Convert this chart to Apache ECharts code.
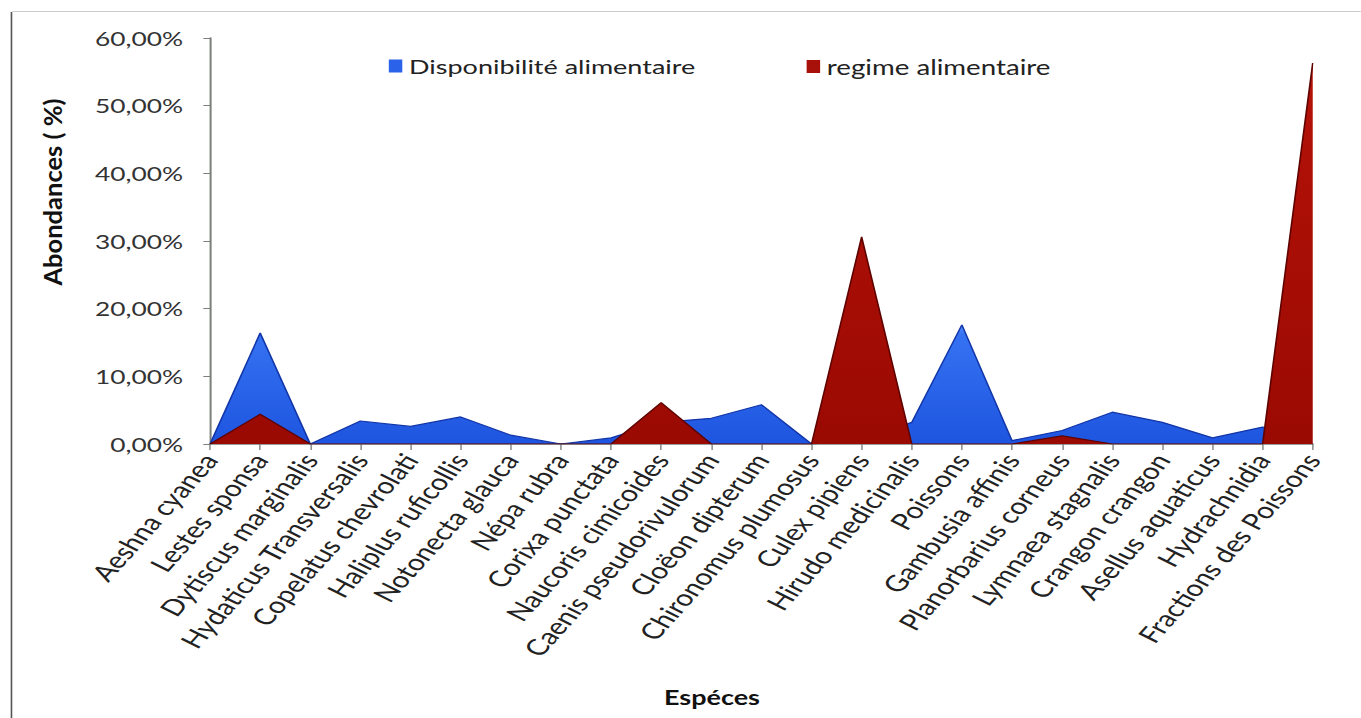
<!DOCTYPE html>
<html>
<head>
<meta charset="utf-8">
<script src="https://cdn.jsdelivr.net/npm/echarts@6/dist/echarts.min.js"></script>
<style>
  html, body { margin: 0; padding: 0; background: #fff; overflow: hidden; }
  /* The chart is laid out in a narrower box and widened horizontally,
     which gives the wide lettering of the published figure. */
  #wrap { width: 1361px; height: 718px; overflow: hidden; }
  #chart { width: 1008.15px; height: 718px; transform: scaleX(1.35); transform-origin: 0 0; }
</style>
</head>
<body>
<div id="wrap"><div id="chart"></div></div>
<script>
// Species (x categories)
const species = [
  'Aeshna cyanea', 'Lestes sponsa', 'Dytiscus marginalis', 'Hydaticus Transversalis',
  'Copelatus chevrolati', 'Haliplus ruficollis', 'Notonecta glauca', 'Népa rubra',
  'Corixa punctata', 'Naucoris cimicoides', 'Caenis pseudorivulorum', 'Cloëon dipterum',
  'Chironomus plumosus', 'Culex pipiens', 'Hirudo medicinalis', 'Poissons',
  'Gambusia affinis', 'Planorbarius corneus', 'Lymnaea stagnalis', 'Crangon crangon',
  'Asellus aquaticus', 'Hydrachnidia', 'Fractions des Poissons'
];

// Abundances in %
const disponibilite = [
  0, 16.4, 0, 3.4, 2.6, 4.0, 1.3, 0, 0.9, 3.2, 3.8, 5.8,
  0, 0.5, 3.2, 17.6, 0.5, 2.0, 4.7, 3.2, 0.9, 2.5, 0
];
const regime = [
  0, 4.4, 0, 0, 0, 0, 0, 0, 0, 6.1, 0, 0,
  0, 30.6, 0, 0, 0, 1.2, 0, 0, 0, 0, 56.3
];

const yTicks = { min: 0, max: 60, interval: 10 };

const FONT = 'Lato, "Open Sans", sans-serif';
const WIDEN = 1.35;

const chart = echarts.init(document.getElementById('chart'), null, { renderer: 'svg' });

const blueFill = new echarts.graphic.LinearGradient(0, 0, 0, 1, [
  { offset: 0, color: '#5a93ff' },
  { offset: 0.08, color: '#3572f2' },
  { offset: 1, color: '#1e55e0' }
]);
const redFill = new echarts.graphic.LinearGradient(0, 0, 0, 1, [
  { offset: 0, color: '#b51208' },
  { offset: 1, color: '#9a0a02' }
]);

chart.setOption({
  backgroundColor: '#ffffff',
  animation: false,
  grid: { left: 155.6, right: 35.6, top: 38, bottom: 274, containLabel: false },
  legend: [
    {
      data: ['Disponibilité alimentaire'],
      left: 283, top: 51,
      itemWidth: 10, itemHeight: 13,
      icon: 'rect',
      textStyle: { fontFamily: FONT, fontSize: 20, color: '#222' }
    },
    {
      data: ['regime alimentaire'],
      left: 592.5, top: 51,
      itemWidth: 10, itemHeight: 13,
      icon: 'rect',
      textStyle: { fontFamily: FONT, fontSize: 20.5, color: '#222' }
    }
  ],
  xAxis: {
    type: 'category',
    data: species,
    boundaryGap: false,
    axisLine: { lineStyle: { color: '#7a7f7a', width: 1.5 } },
    axisTick: { show: true, alignWithLabel: true, length: 6, lineStyle: { color: '#7a7f7a' } },
    axisLabel: {
      rotate: 56, interval: 0, margin: 12,
      fontFamily: FONT, fontSize: 22.5, color: '#222'
    },
    splitLine: { show: false }
  },
  yAxis: {
    type: 'value',
    min: yTicks.min, max: yTicks.max, interval: yTicks.interval,
    axisLine: { show: true, lineStyle: { color: '#7a7f7a', width: 1.5 } },
    axisTick: { show: true, length: 5, lineStyle: { color: '#7a7f7a' } },
    axisLabel: {
      margin: 20, fontFamily: FONT, fontSize: 19.5, color: '#333',
      formatter: v => v.toFixed(2).replace('.', ',') + '%'
    },
    splitLine: { show: false }
  },
  graphic: [
    { type: 'line', shape: { x1: 8.5, y1: 12, x2: 8.5, y2: 718 }, style: { stroke: '#555', lineWidth: 1.2 } },
    { type: 'line', shape: { x1: 9, y1: 11.5, x2: 1010, y2: 11.5 }, style: { stroke: '#ccc', lineWidth: 1 } },
    {
      // vertical title: compressed across its height so the widening leaves it upright-looking
      type: 'text', x: 38.5, y: 192, rotation: Math.PI / 2, scaleY: 1 / WIDEN,
      style: { text: 'Abondances ( %)', font: 'bold 25.5px ' + FONT, fill: '#111', align: 'center', verticalAlign: 'middle' }
    },
    {
      type: 'text', x: 527.4, y: 697,
      style: { text: 'Espéces', font: 'bold 20px ' + FONT, fill: '#111', align: 'center', verticalAlign: 'middle' }
    }
  ],
  series: [
    {
      name: 'Disponibilité alimentaire',
      type: 'line',
      data: disponibilite,
      symbol: 'none',
      itemStyle: { color: '#2a62ea' },
      lineStyle: { color: '#1236a8', width: 1.2 },
      areaStyle: { color: blueFill, opacity: 1 },
      z: 2
    },
    {
      name: 'regime alimentaire',
      type: 'line',
      data: regime,
      symbol: 'none',
      itemStyle: { color: '#a8100a' },
      lineStyle: { color: '#5e0300', width: 1.2 },
      areaStyle: { color: redFill, opacity: 1 },
      z: 3
    }
  ]
});
</script>
</body>
</html>
